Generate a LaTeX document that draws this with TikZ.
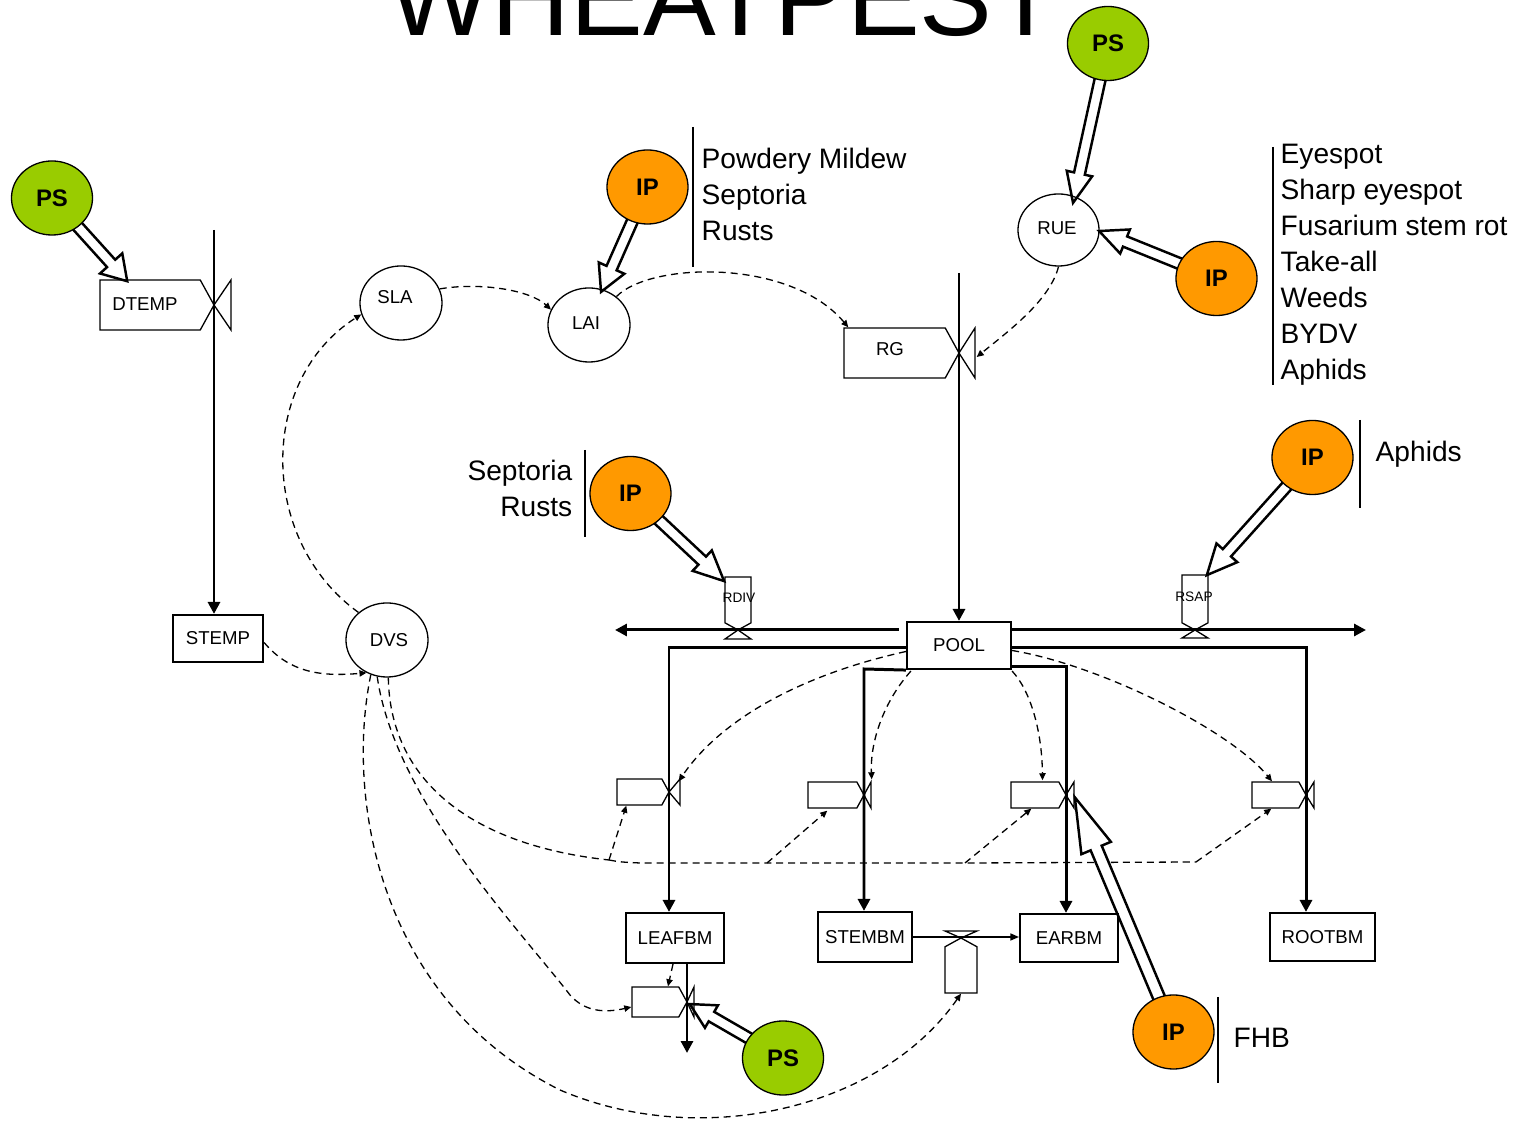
\documentclass[tikz,border=0pt]{standalone}
\usepackage{fontspec}
\setmainfont{Liberation Sans}
\usetikzlibrary{shapes.geometric,arrows.meta,calc,fit}
\pgfdeclarelayer{bg}
\pgfdeclarelayer{mid}
\pgfsetlayers{bg,mid,main}

\definecolor{psgreen}{HTML}{99CC00}
\definecolor{iporange}{HTML}{FF9900}

\tikzset{
  boxfont/.style={font=\fontsize{5.3pt}{6pt}\selectfont},
  psnode/.style={ellipse, draw, line width=0.37pt, fill=psgreen, minimum width=0.81cm,
    minimum height=0.74cm, inner sep=0pt, font=\bfseries\fontsize{6.8pt}{8pt}\selectfont},
  ipnode/.style={psnode, fill=iporange},
  auxnode/.style={ellipse, draw, line width=0.37pt, minimum width=0.82cm,
    minimum height=0.74cm, inner sep=0pt, boxfont},
  stocknode/.style={rectangle, draw, line width=0.6pt, inner sep=0pt, boxfont},
  pipearrow/.style={line width=0.85pt, -{Triangle[length=3.4pt,width=3.4pt]}},
  linkarrow/.style={line width=0.37pt, dash pattern=on 2pt off 1.4pt,
    -{Triangle[length=2pt,width=1.8pt]}},
  linkplain/.style={line width=0.37pt, dash pattern=on 2pt off 1.4pt},
  valveline/.style={line width=0.37pt, line join=miter},
  hollowstyle/.style={line width=0.7pt, fill=white, line join=miter},
  barline/.style={line width=0.8pt},
  lbl/.style={font=\fontsize{8pt}{9.6pt}\selectfont, inner sep=0pt, text height=5.8pt, text depth=0pt},
  smallfont/.style={font=\fontsize{3.9pt}{4.5pt}\selectfont, inner sep=0pt},
}

% horizontal flow: name, left x, tip x, centre y, half height, valve x
\newcommand\flowE[6]{%
  \draw[valveline] (#2,{#4-#5}) -- ({#3-0.55*#5},{#4-#5}) -- (#3,#4) -- ({#3-0.55*#5},{#4+#5}) -- (#2,{#4+#5}) -- cycle;
  \draw[valveline] (#3,#4) -- (#6,{#4-#5}) -- (#6,{#4+#5}) -- cycle;
  \node[fit={(#2,{#4-#5}) (#3,{#4+#5})}, inner sep=0pt] (#1) {};
}
% vertical flow pointing down: name, top y, tip y, centre x, half width, valve y
\newcommand\flowS[6]{%
  \draw[valveline] ({#4-#5},#2) -- ({#4+#5},#2) -- ({#4+#5},{#3-0.55*#5}) -- (#4,#3) -- ({#4-#5},{#3-0.55*#5}) -- cycle;
  \draw[valveline] (#4,#3) -- ({#4-#5},#6) -- ({#4+#5},#6) -- cycle;
  \node[fit={({#4-#5},#2) ({#4+#5},#3)}, inner sep=0pt] (#1) {};
}
% vertical flow pointing up: name, bottom y, tip y, centre x, half width, valve y
\newcommand\flowN[6]{%
  \draw[valveline] ({#4-#5},#2) -- ({#4+#5},#2) -- ({#4+#5},{#3+0.55*#5}) -- (#4,#3) -- ({#4-#5},{#3+0.55*#5}) -- cycle;
  \draw[valveline] (#4,#3) -- ({#4-#5},#6) -- ({#4+#5},#6) -- cycle;
  \node[fit={({#4-#5},#3) ({#4+#5},#2)}, inner sep=0pt] (#1) {};
}
% open double-line arrow from a node centre to a tip:
% source, tip, head length, head half width, shaft half width
\newcommand\hollowarrow[5]{%
  \path let \p1=($(#2)-(#1.center)$) in \pgfextra{%
    \pgfmathsetmacro\harrowangle{atan2(\y1,\x1)}%
    \pgfmathsetmacro\harrowlen{veclen(\x1,\y1)/0.284528}%
    \global\let\harrowangle\harrowangle
    \global\let\harrowlen\harrowlen};
  \draw[hollowstyle, shift={(#1.center)}, rotate=\harrowangle]
    (0,#5) -- ({\harrowlen-#3},#5) -- ({\harrowlen-#3},#4) -- (\harrowlen,0)
    -- ({\harrowlen-#3},-#4) -- ({\harrowlen-#3},-#5) -- (0,-#5);
}

\begin{document}
\begin{tikzpicture}[x=0.01cm,y=-0.01cm]
\useasboundingbox (0,0) rectangle (1517,1125);

% title
\node[font=\fontsize{31pt}{32pt}\selectfont, anchor=base, inner sep=0pt] (title) at (724,36) {WHEATPEST};

% parameter sources
\node[psnode] (ps1) at (52,198) {PS};
\node[psnode] (ps2) at (1108,43.5) {PS};
\node[psnode] (ps3) at (783,1058) {PS};
\node[ipnode] (ip1) at (647.5,187) {IP};
\node[ipnode] (ip2) at (1216.5,278.5) {IP};
\node[ipnode] (ip3) at (630.5,493.5) {IP};
\node[ipnode] (ip4) at (1312.5,457.5) {IP};
\node[ipnode] (ip5) at (1173.5,1032) {IP};

% auxiliary variables
\node[auxnode] (sla) at (401,303) {};
\node[boxfont, inner sep=0pt] (slatxt) at (395,297) {SLA};
\node[auxnode] (lai) at (589,325) {};
\node[boxfont, inner sep=0pt] (laitxt) at (586,323) {LAI};
\node[auxnode, minimum width=0.81cm, minimum height=0.72cm] (rue) at (1058.5,230) {};
\node[boxfont, inner sep=0pt] (ruetxt) at (1057,228) {RUE};
\node[auxnode] (dvs) at (387,640) {};
\node[boxfont, inner sep=0pt] (dvstxt) at (389,640) {DVS};

% stocks
\node[stocknode, minimum width=0.9cm, minimum height=0.47cm] (stemp) at (218,638.5) {STEMP};
\node[stocknode, minimum width=1.04cm, minimum height=0.47cm] (pool) at (959,645.5) {POOL};
\node[stocknode, minimum width=0.98cm, minimum height=0.5cm] (leafbm) at (675,938) {LEAFBM};
\node[stocknode, minimum width=0.94cm, minimum height=0.5cm] (stembm) at (865,937) {STEMBM};
\node[stocknode, minimum width=0.98cm, minimum height=0.48cm] (earbm) at (1069,938) {EARBM};
\node[stocknode, minimum width=1.05cm, minimum height=0.48cm] (rootbm) at (1322.5,937) {ROOTBM};

% flows
\flowE{dtemp}{100}{214}{305}{25}{231}
\node[boxfont, inner sep=0pt] (dtemptxt) at (145,304) {DTEMP};
\flowE{rg}{844}{959}{353}{25}{975}
\node[boxfont, inner sep=0pt] (rgtxt) at (890,349) {RG};
\flowS{rdiv}{577}{630}{738}{13}{639}
\node[smallfont] (rdivtxt) at (739,598) {RDIV};
\flowS{rsap}{575}{630}{1195}{13}{638}
\node[smallfont] (rsaptxt) at (1194,597) {RSAP};
\flowE{leafv}{617}{669}{792}{13}{680}
\flowE{stemv}{808}{864}{795}{13}{871}
\flowE{earv}{1011}{1066}{795}{13}{1074}
\flowE{rootv}{1252}{1306}{795}{13}{1314}
\flowE{leaflo}{632}{687}{1002}{15}{694}
\flowN{segv}{993}{938}{961}{16}{931}

% material pipes
\coordinate (dtempsrc) at (214,230);
\draw[pipearrow] (dtempsrc) -- (dtempsrc |- stemp.north);
\coordinate (rgsrc) at (959,273);
\draw[pipearrow] (rgsrc) -- (rgsrc |- pool.north);
\coordinate (divout) at (615,630);
\coordinate (sapout) at (1366,630);
\draw[pipearrow] ($(pool.west |- divout)+(-7,0)$) -- (divout);
\draw[pipearrow] (pool.east |- sapout) -- (sapout);
\coordinate (leafpipe) at (669,648);
\draw[pipearrow] (pool.west |- leafpipe) -- (leafpipe) -- (leafpipe |- leafbm.north);
\coordinate (stempipe) at (864,669);
\draw[pipearrow] (pool.south west) -- (stempipe) -- (stempipe |- stembm.north);
\coordinate (earpipe) at (1066,667);
\draw[pipearrow] (pool.east |- earpipe) -- (earpipe) -- (earpipe |- earbm.north);
\coordinate (rootpipe) at (1306,648);
\draw[pipearrow] (pool.east |- rootpipe) -- (rootpipe) -- (rootpipe |- rootbm.north);
\coordinate (leafsink) at (687,1053);
\draw[pipearrow] (leafsink |- leafbm.south) -- (leafsink);
\draw[valveline, -{Triangle[length=2.4pt,width=2pt]}] (stembm.east) -- (earbm.west |- stembm.east);

% information links
\begin{pgfonlayer}{bg}
\draw[linkarrow] ($(stemp.east)+(0,4)$) to[out=-50, in=185] (dvs.-122);
\draw[linkarrow] (dvs.136) .. controls (258,540) and (258,380) .. (sla.196);
\draw[linkarrow] (sla.20) .. controls (480,282) and (530,290) .. (lai.158);
\draw[linkarrow] (lai.46) .. controls (650,262) and (790,258) .. ($(rg.north west)+(5,0)$);
\draw[linkarrow] (rue.-90) .. controls (1050,300) and (1010,330) .. ($(rg.east)+(17,4)$);
\draw[linkarrow] ($(pool.west)+(0,6)$) .. controls (800,675) and (720,720) .. ($(leafv.north east)+(9,3)$);
\draw[linkarrow] ($(pool.south west)+(5,1)$) .. controls (885,700) and (870,740) .. ($(stemv.north east)+(7,-2)$);
\draw[linkarrow] ($(pool.south east)+(0,1)$) .. controls (1030,690) and (1042,730) .. ($(earv.north)+(4,-1)$);
\draw[linkarrow] ($(pool.east)+(0,5)$) .. controls (1100,665) and (1230,730) .. ($(rootv.north)+(-7,0)$);

\coordinate (dvsjoin) at (609,860);
\coordinate (brstem) at (767,863);
\coordinate (brear) at (965,863);
\coordinate (rootturn) at (1196,862);
\draw[linkplain] (dvs.-88) .. controls (390,780) and (470,845) .. (dvsjoin);
\draw[linkarrow] (dvsjoin) -- ($(leafv.south west)+(10,0)$);
\draw[linkplain] (dvsjoin) .. controls (620,862) .. (640,863) -- (brstem) -- (brear) -- (rootturn);
\draw[linkarrow] (brstem) -- ($(stemv.south west)+(20,2)$);
\draw[linkarrow] (brear) -- ($(earv.south west)+(21,0)$);
\draw[linkarrow] (rootturn) -- ($(rootv.south west)+(20,0)$);
\draw[linkarrow] (dvs.-105) .. controls (395,800) and (520,930) .. (570,995)
  .. controls (585,1012) and (605,1013) .. ($(leaflo.west)+(0,5)$);
\draw[linkarrow] (dvs.-115) .. controls (345,800) and (380,1000) .. (560,1090)
  .. controls (700,1150) and (880,1110) .. (segv.south);
\draw[linkarrow] ($(leafbm.south)+(-2,0)$) -- ($(leaflo.north)+(8.5,0)$);
\end{pgfonlayer}

% parameter effects
\coordinate (dtempin) at ($(dtemp.north west)+(28,2)$);
\coordinate (laiin) at (601,292);
\coordinate (ruetop) at (1073,203);
\coordinate (rueside) at (1099,231);
\coordinate (rdivin) at ($(rdiv.north west)+(0,5)$);
\coordinate (rsapin) at ($(rsap.north east)+(-2,1)$);
\coordinate (earvin) at ($(earv.east)+(8,2)$);
\coordinate (leafloin) at ($(leaflo.east)+(2,2)$);
\begin{pgfonlayer}{mid}
\hollowarrow{ps1}{dtempin}{24}{15}{5.5}
\hollowarrow{ip1}{laiin}{26}{14}{5.5}
\hollowarrow{ps2}{ruetop}{30}{13}{5.5}
\hollowarrow{ip2}{rueside}{28}{13}{5.5}
\hollowarrow{ip3}{rdivin}{30}{14}{5.5}
\hollowarrow{ip4}{rsapin}{30}{14}{5.5}
\hollowarrow{ip5}{earvin}{55}{16}{6}
\hollowarrow{ps3}{leafloin}{25}{13}{5.5}
\end{pgfonlayer}

% pest lists
\draw[barline] (693,127) -- (693,267);
\node[lbl, anchor=west] (pm1) at (701,158) {Powdery Mildew};
\node[lbl, anchor=west] (pm2) at (701,194) {Septoria};
\node[lbl, anchor=west] (pm3) at (701,230) {Rusts};

\draw[barline] (1273,147) -- (1273,385);
\node[lbl, anchor=west] (ey1) at (1280,153) {Eyespot};
\node[lbl, anchor=west] (ey2) at (1280,189) {Sharp eyespot};
\node[lbl, anchor=west] (ey3) at (1280,225) {Fusarium stem rot};
\node[lbl, anchor=west] (ey4) at (1280,261) {Take-all};
\node[lbl, anchor=west] (ey5) at (1280,297) {Weeds};
\node[lbl, anchor=west] (ey6) at (1280,333) {BYDV};
\node[lbl, anchor=west] (ey7) at (1280,369) {Aphids};

\draw[barline] (585,450) -- (585,537);
\node[lbl, anchor=east] (sr1) at (573,470) {Septoria};
\node[lbl, anchor=east] (sr2) at (573,506) {Rusts};

\draw[barline] (1360,420) -- (1360,508);
\node[lbl, anchor=west] (aph) at (1375,451) {Aphids};

\draw[barline] (1218,997) -- (1218,1083);
\node[lbl, anchor=west] (fhb) at (1233,1037) {FHB};
\end{tikzpicture}
\end{document}
